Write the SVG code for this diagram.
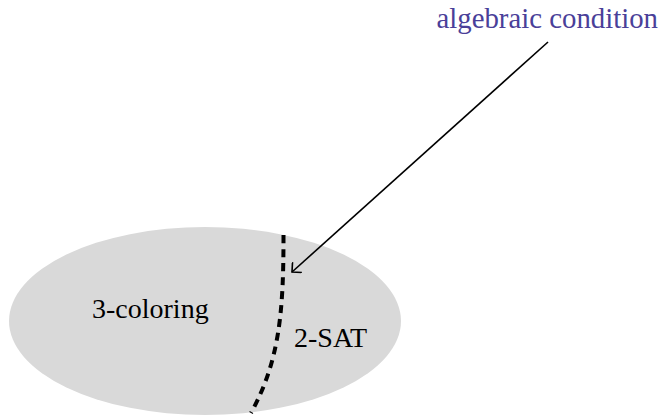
<svg xmlns="http://www.w3.org/2000/svg" width="663" height="417" viewBox="0 0 663 417">
  <defs>
    <style>
      .lbl { font-family: "Liberation Serif", "Times New Roman", serif; font-size: 28px; fill: #000; }
      .note { font-family: "Liberation Serif", "Times New Roman", serif; font-size: 28.8px; fill: #4a3f99; }
      .region { fill: #d9d9d9; stroke: none; }
      .divider { fill: none; stroke: #000; stroke-width: 4; stroke-dasharray: 8 6; }
      .arrow { fill: none; stroke: #000; stroke-width: 1.6; }
    </style>
    <marker id="openArrow" markerWidth="14" markerHeight="14" refX="12" refY="7" orient="auto" markerUnits="userSpaceOnUse">
      <path d="M5,0 L12,7 L5,14" fill="none" stroke="#000" stroke-width="1.6"/>
    </marker>
  </defs>
  <g id="problem-space">
    <ellipse class="region" cx="205" cy="321" rx="196" ry="94"/>
    <text class="lbl" x="92" y="318">3-coloring</text>
    <text class="lbl" x="294" y="347">2-SAT</text>
  </g>
  <g id="boundary">
    <path class="divider" d="M283.5,235 C283.5,310 280,360 251,413"/>
  </g>
  <g id="note">
    <text class="note" x="658" y="28" text-anchor="end">algebraic condition</text>
  </g>
  <g id="connectors">
    <line class="arrow" x1="548" y1="42" x2="292" y2="272" marker-end="url(#openArrow)"/>
  </g>
</svg>
